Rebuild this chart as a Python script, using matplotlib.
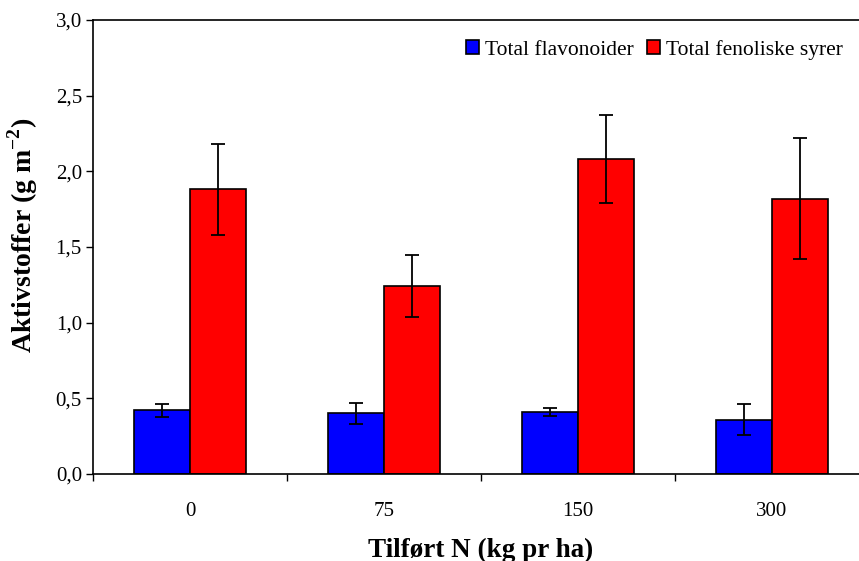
import numpy as np
import matplotlib.pyplot as plt
from matplotlib.ticker import FixedLocator, FuncFormatter

# ---------------------------------------------------------------------
# DATA
# ---------------------------------------------------------------------
N_LEVELS = ["0", "75", "150", "300"]
flavonoider = [0.42, 0.40, 0.41, 0.36]
flavonoider_err = [0.044, 0.07, 0.027, 0.10]
fenolsyrer = [1.88, 1.24, 2.08, 1.82]
fenolsyrer_err = [0.30, 0.205, 0.29, 0.40]

plt.rcParams["font.family"] = ["Liberation Serif", "DejaVu Serif"]
plt.rcParams["mathtext.fontset"] = "custom"
plt.rcParams["mathtext.rm"] = "Liberation Serif"
plt.rcParams["mathtext.bf"] = "Liberation Serif:bold"

fig = plt.figure(figsize=(8.59, 5.61), dpi=100)
W, H = 859, 561
ax = fig.add_axes([93 / W, (H - 474) / H, (869 - 93) / W, (474 - 20) / H])

x = np.arange(len(N_LEVELS))
width = 0.29
err_kw = dict(ecolor="black", elinewidth=1.3, capsize=5, capthick=1.3)
ax.bar(x - width / 2, flavonoider, width, yerr=flavonoider_err,
       color="#0000ff", edgecolor="black", linewidth=1.2,
       label="Total flavonoider", error_kw=err_kw)
ax.bar(x + width / 2, fenolsyrer, width, yerr=fenolsyrer_err,
       color="#ff0000", edgecolor="black", linewidth=1.2,
       label="Total fenoliske syrer", error_kw=err_kw)

ax.set_xlim(-0.5, len(N_LEVELS) - 0.5)
ax.set_ylim(0, 3.0)
ax.set_yticks(np.arange(0, 3.01, 0.5))
ax.yaxis.set_major_formatter(FuncFormatter(lambda v, p: f"{v:.1f}".replace(".", ",")))
ax.tick_params(axis="y", direction="out", length=5, width=1, labelsize=15, pad=3)

ax.set_xticks(x)
ax.set_xticklabels(N_LEVELS)
ax.xaxis.set_minor_locator(FixedLocator(np.arange(-0.5, len(N_LEVELS), 1.0)))
ax.tick_params(axis="x", which="major", length=0, labelsize=15, pad=20)
ax.tick_params(axis="x", which="minor", direction="out", length=5, width=1)

for s in ax.spines.values():
    s.set_linewidth(1.2)

ax.set_ylabel("Aktivstoffer (g m$^{\\mathbf{-2}}$)", fontsize=20, fontweight="bold")
ax.yaxis.set_label_coords(-0.068, 0.525)
ax.set_xlabel("Tilført N (kg pr ha)", fontsize=19.5, fontweight="bold", labelpad=12)

ax.legend(loc="upper right", bbox_to_anchor=(850 / 776 - 93 / 776 + 0.008, 0.985),
          ncol=2, frameon=False, fontsize=15.5, handlelength=0.6, handleheight=0.6,
          handletextpad=0.3, columnspacing=0.6, borderaxespad=0.2)

fig.savefig("out.png", dpi=100)
